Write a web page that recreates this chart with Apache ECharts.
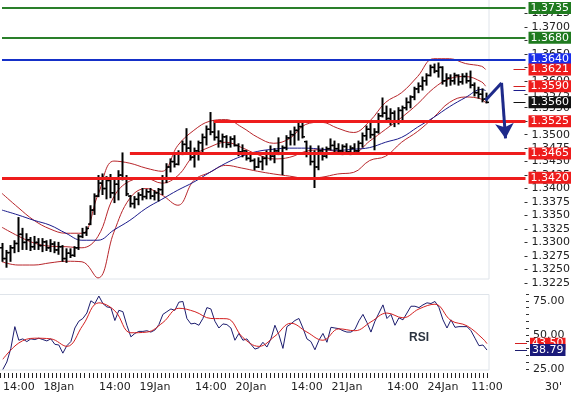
<!DOCTYPE html>
<html>
<head>
<meta charset="utf-8">
<script src="https://cdn.jsdelivr.net/npm/echarts@6/dist/echarts.min.js"></script>
<style>
  html, body { margin: 0; padding: 0; background: #fff; }
  #chart { width: 573px; height: 395px; }
</style>
</head>
<body>
<div id="chart"></div>
<script>
// 30' EUR chart: hourly bars 17Jan 10:00 .. 24Jan 11:00, plus 10 empty slots on the right
const slotCount = 132;
const categories = Array.from({ length: slotCount }, (_, i) => String(i));

// x axis labels
const tickIdx = [4, 14, 28, 38, 52, 62, 76, 86, 100, 110, 121];
const tickText = ['14:00', '18Jan', '14:00', '19Jan', '14:00', '20Jan', '14:00', '21Jan', '14:00', '24Jan', '11:00'];

// price bars
const opens = [
  1.3290, 1.3270, 1.3281, 1.3290, 1.3298, 1.3315, 1.3300, 1.3305, 1.3292, 1.3300,
  1.3294, 1.3301, 1.3290, 1.3297, 1.3286, 1.3292, 1.3270, 1.3280, 1.3276, 1.3290,
  1.3311, 1.3318, 1.3334, 1.3360, 1.3386, 1.3410, 1.3400, 1.3415, 1.3392, 1.3408,
  1.3425, 1.3420, 1.3386, 1.3372, 1.3380, 1.3388, 1.3385, 1.3394, 1.3386, 1.3392,
  1.3398, 1.3420, 1.3440, 1.3450, 1.3445, 1.3466, 1.3482, 1.3475, 1.3458, 1.3470,
  1.3485, 1.3495, 1.3510, 1.3505, 1.3495, 1.3488, 1.3496, 1.3482, 1.3492, 1.3480,
  1.3468, 1.3470, 1.3456, 1.3452, 1.3440, 1.3450, 1.3456, 1.3466, 1.3460, 1.3470,
  1.3466, 1.3476, 1.3494, 1.3500, 1.3508, 1.3515, 1.3487, 1.3465, 1.3450, 1.3440,
  1.3470, 1.3460, 1.3474, 1.3480, 1.3474, 1.3470, 1.3478, 1.3468, 1.3475, 1.3470,
  1.3484, 1.3498, 1.3510, 1.3500, 1.3505, 1.3535, 1.3540, 1.3530, 1.3540, 1.3525,
  1.3545, 1.3550, 1.3560, 1.3570, 1.3585, 1.3590, 1.3600, 1.3610, 1.3625, 1.3618,
  1.3625, 1.3600, 1.3605, 1.3600, 1.3610, 1.3598, 1.3608, 1.3600, 1.3592, 1.3578,
  1.3575, 1.3566
];
const closes = [
  1.3270, 1.3281, 1.3290, 1.3298, 1.3315, 1.3300, 1.3305, 1.3292, 1.3300, 1.3294,
  1.3301, 1.3290, 1.3297, 1.3286, 1.3292, 1.3270, 1.3280, 1.3276, 1.3290, 1.3311,
  1.3318, 1.3326, 1.3360, 1.3386, 1.3410, 1.3400, 1.3415, 1.3392, 1.3408, 1.3425,
  1.3420, 1.3390, 1.3372, 1.3380, 1.3388, 1.3385, 1.3394, 1.3386, 1.3392, 1.3398,
  1.3420, 1.3440, 1.3450, 1.3445, 1.3466, 1.3482, 1.3475, 1.3458, 1.3470, 1.3485,
  1.3495, 1.3510, 1.3505, 1.3495, 1.3488, 1.3496, 1.3482, 1.3492, 1.3480, 1.3468,
  1.3470, 1.3456, 1.3452, 1.3440, 1.3450, 1.3456, 1.3466, 1.3460, 1.3470, 1.3466,
  1.3476, 1.3494, 1.3500, 1.3508, 1.3515, 1.3496, 1.3465, 1.3450, 1.3440, 1.3470,
  1.3460, 1.3474, 1.3480, 1.3474, 1.3470, 1.3478, 1.3468, 1.3475, 1.3470, 1.3484,
  1.3498, 1.3510, 1.3500, 1.3505, 1.3535, 1.3540, 1.3530, 1.3540, 1.3525, 1.3545,
  1.3550, 1.3560, 1.3570, 1.3585, 1.3590, 1.3600, 1.3610, 1.3625, 1.3618, 1.3625,
  1.3600, 1.3605, 1.3600, 1.3610, 1.3598, 1.3608, 1.3600, 1.3592, 1.3578, 1.3575,
  1.3566, 1.3560
];
const highs = [
  1.3299, 1.3286, 1.3295, 1.3304, 1.3347, 1.3327, 1.3317, 1.3310, 1.3312, 1.3308,
  1.3308, 1.3304, 1.3306, 1.3302, 1.3301, 1.3295, 1.3289, 1.3289, 1.3293, 1.3315,
  1.3327, 1.3330, 1.3369, 1.3391, 1.3425, 1.3428, 1.3423, 1.3427, 1.3419, 1.3434,
  1.3467, 1.3425, 1.3388, 1.3386, 1.3393, 1.3401, 1.3399, 1.3401, 1.3397, 1.3401,
  1.3425, 1.3447, 1.3456, 1.3465, 1.3471, 1.3489, 1.3512, 1.3489, 1.3476, 1.3489,
  1.3502, 1.3517, 1.3542, 1.3527, 1.3508, 1.3502, 1.3499, 1.3497, 1.3499, 1.3484,
  1.3482, 1.3471, 1.3467, 1.3456, 1.3458, 1.3460, 1.3471, 1.3480, 1.3475, 1.3495,
  1.3480, 1.3499, 1.3508, 1.3515, 1.3523, 1.3527, 1.3489, 1.3480, 1.3471, 1.3480,
  1.3476, 1.3478, 1.3493, 1.3489, 1.3484, 1.3482, 1.3484, 1.3480, 1.3484, 1.3489,
  1.3504, 1.3517, 1.3523, 1.3512, 1.3540, 1.3569, 1.3554, 1.3549, 1.3545, 1.3551,
  1.3554, 1.3569, 1.3573, 1.3589, 1.3597, 1.3608, 1.3614, 1.3630, 1.3632, 1.3634,
  1.3627, 1.3614, 1.3612, 1.3615, 1.3612, 1.3614, 1.3615, 1.3619, 1.3597, 1.3589,
  1.3586, 1.3578
];
const lows = [
  1.3264, 1.3253, 1.3264, 1.3280, 1.3282, 1.3286, 1.3286, 1.3284, 1.3286, 1.3286,
  1.3282, 1.3284, 1.3282, 1.3280, 1.3277, 1.3264, 1.3262, 1.3271, 1.3273, 1.3286,
  1.3308, 1.3312, 1.3332, 1.3351, 1.3384, 1.3388, 1.3380, 1.3382, 1.3373, 1.3378,
  1.3415, 1.3386, 1.3365, 1.3363, 1.3369, 1.3378, 1.3380, 1.3380, 1.3378, 1.3376,
  1.3388, 1.3410, 1.3430, 1.3439, 1.3443, 1.3462, 1.3467, 1.3452, 1.3439, 1.3452,
  1.3465, 1.3480, 1.3499, 1.3489, 1.3476, 1.3476, 1.3475, 1.3476, 1.3478, 1.3460,
  1.3458, 1.3452, 1.3449, 1.3434, 1.3438, 1.3434, 1.3443, 1.3452, 1.3447, 1.3462,
  1.3425, 1.3471, 1.3480, 1.3480, 1.3489, 1.3493, 1.3458, 1.3443, 1.3401, 1.3434,
  1.3452, 1.3456, 1.3471, 1.3467, 1.3464, 1.3462, 1.3464, 1.3462, 1.3465, 1.3467,
  1.3476, 1.3489, 1.3493, 1.3471, 1.3502, 1.3532, 1.3523, 1.3517, 1.3514, 1.3519,
  1.3527, 1.3545, 1.3549, 1.3564, 1.3577, 1.3582, 1.3591, 1.3608, 1.3614, 1.3606,
  1.3593, 1.3589, 1.3591, 1.3593, 1.3591, 1.3593, 1.3595, 1.3586, 1.3571, 1.3567,
  1.3560, 1.3558
];

// indicator lines, read every 4 bars
const bandIdx = [0, 4, 8, 12, 16, 20, 24, 28, 32, 36, 40, 44, 48, 52, 56, 60,
  64, 68, 72, 76, 80, 84, 88, 92, 96, 100, 104, 108, 112, 116, 120, 121];
const upperBand = [1.3391, 1.3365, 1.3341, 1.3325, 1.3317, 1.3317, 1.3388, 1.3451,
  1.3447, 1.3438, 1.3432, 1.3480, 1.3508, 1.3525, 1.3528, 1.3514, 1.3495, 1.3484,
  1.3493, 1.3519, 1.3523, 1.3512, 1.3504, 1.3525, 1.3560, 1.3578, 1.3608, 1.3641,
  1.3641, 1.3632, 1.3627, 1.3621];
const midBand = [1.3328, 1.3312, 1.3299, 1.3293, 1.3292, 1.3290, 1.3311, 1.3385,
  1.3414, 1.3419, 1.3410, 1.3424, 1.3461, 1.3477, 1.3486, 1.3476, 1.3463, 1.3455,
  1.3458, 1.3469, 1.3472, 1.3469, 1.3467, 1.3488, 1.3510, 1.3532, 1.3557, 1.3586,
  1.3604, 1.3608, 1.3598, 1.3590];
const lowerBand = [1.3264, 1.3258, 1.3258, 1.3262, 1.3265, 1.3264, 1.3234, 1.3319,
  1.3382, 1.3400, 1.3388, 1.3369, 1.3415, 1.3430, 1.3443, 1.3438, 1.3432, 1.3427,
  1.3423, 1.3419, 1.3421, 1.3427, 1.3430, 1.3452, 1.3460, 1.3486, 1.3506, 1.3532,
  1.3560, 1.3570, 1.3566, 1.3559];
const maLine = [1.3360, 1.3351, 1.3341, 1.3332, 1.3317, 1.3304, 1.3304, 1.3323,
  1.3341, 1.3363, 1.3380, 1.3397, 1.3412, 1.3430, 1.3447, 1.3460, 1.3469, 1.3473,
  1.3475, 1.3475, 1.3473, 1.3471, 1.3473, 1.3476, 1.3486, 1.3495, 1.3514, 1.3532,
  1.3552, 1.3569, 1.3584, 1.3582];

// RSI (every bar) and its signal (every 4 bars)
const rsi = [
  24.5, 30, 40, 56, 46, 47, 45, 47, 46.5, 47.5,
  46.5, 45.5, 47, 43, 42.5, 36.5, 42, 45, 55, 60,
  62, 66, 75, 73, 78.5, 73, 70.5, 70, 60.5, 68,
  67, 57, 48.5, 51, 52.5, 52.5, 53, 52, 53.5, 57.5,
  65, 67, 69, 68, 74, 74.5, 62, 58, 58.5, 57,
  62, 70, 69, 60, 55, 58, 57.5, 55, 46, 51,
  46, 47, 43, 39.5, 40.5, 44.5, 41, 47, 57, 50,
  40, 56, 58, 60.5, 62, 55, 47, 45, 39, 46,
  51, 44.5, 55.5, 55, 54.5, 53, 52, 52, 54, 60.3,
  65, 59, 52, 60, 66, 72, 62, 65, 57, 62.5,
  61, 66, 71, 71, 70, 72, 73.5, 73, 74.5, 70,
  61, 55, 61, 55.5, 56, 56, 56, 53, 47.5, 42,
  42.5, 38.79
];
const rsiSignal = [32, 44, 47.5, 47, 41.5, 57, 73.5, 67.6, 51.5, 52, 59, 69.5, 67, 62,
  61.8, 48, 41.5, 49, 58.5, 52, 46, 54.4, 53, 59.5, 66, 62.5, 69, 72.5, 60.5, 56.6,
  47, 43.5];

// horizontal levels
const levels = [1.3735, 1.3680, 1.3640, 1.3525, 1.3465, 1.3420];
const levelStart = [0, 0, 0, 53, 32, 0];
const levelColor = ['#2a7f2a', '#2a7f2a', '#1530c8', '#ee1c1c', '#ee1c1c', '#ee1c1c'];
const levelBox = ['#1f7a1f', '#1f7a1f', '#1a2eea', '#ee1c1c', '#ee1c1c', '#ee1c1c'];

// forecast arrow (slot, price)
const arrowPts = [[121, 1.3564], [125, 1.3596], [126, 1.3493]];

const lastIdx = closes.length - 1;
const pair = (vals) => bandIdx.map((k, j) => [k, vals[j]]);

// shared horizontal layout of both panels
const gridLeft = -2;
const gridWidth = 531;

const chart = echarts.init(document.getElementById('chart'));

const boxLabel = (text, bg) => ({
    show: true,
    position: 'end',
    distance: 3,
    formatter: text,
    color: '#fff',
    backgroundColor: bg,
    fontFamily: 'DejaVu Sans',
    fontSize: 11,
    lineHeight: 11,
    padding: [1, 2, 0, 2]
});

const levelLines = levels.map((v, k) => [
    {
        coord: [levelStart[k], v],
        lineStyle: { color: levelColor[k], width: k < 3 ? 2 : 3, type: 'solid' },
        label: boxLabel(v.toFixed(4), levelBox[k])
    },
    { coord: [slotCount - 1, v] }
]);

const stub = (v, color, text, bg) => [
    {
        coord: [128, v],
        lineStyle: { color: color, width: 1, type: 'solid' },
        label: text ? boxLabel(text, bg) : { show: false }
    },
    { coord: [slotCount - 1, v] }
];

// hourly time ticks under the RSI panel, one per bar slot
const timeTicks = closes.map((c, i) => {
    const x = Math.round(gridLeft + (i + 0.5) * gridWidth / slotCount) + 0.5;
    return {
        type: 'line', silent: true,
        shape: { x1: x, y1: 373, x2: x, y2: 378 },
        style: { stroke: '#222', lineWidth: 1 }
    };
});

const option = {
    backgroundColor: '#fff',
    animation: false,
    grid: [
        { left: gridLeft, top: -0.7, width: gridWidth, height: 283.5 },
        { left: gridLeft, top: 294, width: gridWidth, height: 74.8 }
    ],
    xAxis: [
        {
            type: 'category', gridIndex: 0, data: categories,
            axisLine: { show: false }, axisTick: { show: false },
            axisLabel: { show: false }, splitLine: { show: false }
        },
        {
            type: 'category', gridIndex: 1, data: categories, offset: 4,
            axisLine: { show: false }, axisTick: { show: false },
            axisLabel: {
                interval: (i) => tickIdx.indexOf(i) >= 0,
                formatter: (v, i) => tickText[tickIdx.indexOf(i)],
                color: '#222', fontFamily: 'DejaVu Sans', fontSize: 11, margin: 9
            },
            splitLine: { show: false }
        }
    ],
    yAxis: [
        {
            type: 'value', gridIndex: 0, position: 'right',
            min: 1.3225, max: 1.3750, interval: 0.0025,
            axisLine: { show: false },
            axisTick: { show: true, inside: true, length: 3, lineStyle: { color: '#333' } },
            axisLabel: {
                showMaxLabel: false, margin: 4,
                formatter: (v) => v.toFixed(4),
                color: '#222', fontFamily: 'DejaVu Sans', fontSize: 11
            },
            splitLine: { show: false }
        },
        {
            type: 'value', gridIndex: 1, position: 'right',
            min: 25, max: 80, interval: 5,
            axisLine: { show: false },
            axisTick: { show: true, inside: true, length: 3, lineStyle: { color: '#333' } },
            axisLabel: {
                margin: 4,
                formatter: (v) => (v % 25 === 0 ? v.toFixed(2) : ''),
                color: '#222', fontFamily: 'DejaVu Sans', fontSize: 11
            },
            splitLine: { show: false }
        }
    ],
    graphic: [
        { type: 'rect', id: 'frameMain', z: -1, shape: { x: -1, y: -1, width: 490, height: 280 },
          style: { fill: 'none', stroke: '#dfe4ea', lineWidth: 1 } },
        { type: 'rect', id: 'frameRsi', z: -1, shape: { x: -1, y: 294.5, width: 490, height: 75.5 },
          style: { fill: 'none', stroke: '#dfe4ea', lineWidth: 1 } },
        { type: 'text', id: 'rsiName', left: 409, top: 332, z: 5,
          style: { text: 'RSI', fill: '#2c3440', font: 'bold 12px "Liberation Sans", Arial, sans-serif' } },
        { type: 'text', id: 'period', left: 545, top: 382,
          style: { text: "30'", fill: '#222', font: '11px "DejaVu Sans", sans-serif' } },
        { type: 'group', id: 'timeTicks', z: 10, children: timeTicks }
    ],
    series: [
        {
            name: 'levels', type: 'line', xAxisIndex: 0, yAxisIndex: 0, data: [], z: 3,
            markLine: { silent: true, symbol: ['none', 'none'], data: levelLines }
        },
        {
            name: 'upper', type: 'line', xAxisIndex: 0, yAxisIndex: 0, data: pair(upperBand),
            smooth: 0.4, symbol: 'none', lineStyle: { color: '#b8262b', width: 1 }
        },
        {
            name: 'middle', type: 'line', xAxisIndex: 0, yAxisIndex: 0, data: pair(midBand),
            smooth: 0.4, symbol: 'none', lineStyle: { color: '#b8262b', width: 1 }
        },
        {
            name: 'lower', type: 'line', xAxisIndex: 0, yAxisIndex: 0, data: pair(lowerBand),
            smooth: 0.4, symbol: 'none', lineStyle: { color: '#b8262b', width: 1 }
        },
        {
            name: 'ma', type: 'line', xAxisIndex: 0, yAxisIndex: 0, data: pair(maLine),
            smooth: 0.4, symbol: 'none', lineStyle: { color: '#1c1c8c', width: 1 }
        },
        {
            name: 'price', type: 'custom', xAxisIndex: 0, yAxisIndex: 0, z: 4,
            data: closes.map((c, i) => [i, opens[i], c, lows[i], highs[i]]),
            encode: { x: 0, y: [1, 2, 3, 4] },
            renderItem: function (params, api) {
                const x = Math.round(api.coord([api.value(0), 0])[0]) + 0.5;
                const o = api.coord([api.value(0), api.value(1)])[1];
                const c = api.coord([api.value(0), api.value(2)])[1];
                const lo = api.coord([api.value(0), api.value(3)])[1];
                const hi = api.coord([api.value(0), api.value(4)])[1];
                const st = { stroke: '#000', lineWidth: 1.5 };
                return {
                    type: 'group',
                    children: [
                        { type: 'line', shape: { x1: x, y1: hi, x2: x, y2: lo }, style: { stroke: '#000', lineWidth: 2 } },
                        { type: 'line', shape: { x1: x - 2.5, y1: o, x2: x, y2: o }, style: st },
                        { type: 'line', shape: { x1: x, y1: c, x2: x + 2.5, y2: c }, style: st }
                    ]
                };
            }
        },
        {
            name: 'stubs', type: 'line', xAxisIndex: 0, yAxisIndex: 0, data: [], z: 5,
            markLine: {
                silent: true, symbol: ['none', 'none'],
                data: [
                    stub(upperBand[upperBand.length - 1], '#d42020', '1.3621', '#ee1c1c'),
                    stub(midBand[midBand.length - 1], '#d42020', '1.3590', '#ee1c1c'),
                    stub(maLine[maLine.length - 1], '#1c1c8c', null, null),
                    stub(closes[lastIdx], '#111', closes[lastIdx].toFixed(4), '#111')
                ]
            }
        },
        {
            name: 'arrow', type: 'line', xAxisIndex: 0, yAxisIndex: 0, data: [], z: 6,
            markLine: {
                silent: true, symbol: ['none', 'none'],
                lineStyle: { color: '#1e2a8a', width: 3, type: 'solid' },
                label: { show: false },
                data: [
                    [{ coord: arrowPts[0] }, { coord: arrowPts[1] }],
                    [{ coord: arrowPts[1] }, { coord: arrowPts[2], symbol: 'arrow', symbolSize: [14, 15] }]
                ]
            }
        },
        {
            name: 'RSI', type: 'line', xAxisIndex: 1, yAxisIndex: 1, clip: false,
            data: rsi.map((v, i) => [i, v]),
            symbol: 'none', lineStyle: { color: '#1c1c6e', width: 1 }
        },
        {
            name: 'signal', type: 'line', xAxisIndex: 1, yAxisIndex: 1, clip: false,
            data: pair(rsiSignal), smooth: 0.4,
            symbol: 'none', lineStyle: { color: '#d42020', width: 1 }
        },
        {
            name: 'rsiBoxes', type: 'line', xAxisIndex: 1, yAxisIndex: 1, data: [], z: 5,
            markLine: {
                silent: true, symbol: ['none', 'none'],
                data: [
                    stub(rsiSignal[rsiSignal.length - 1], '#d42020', rsiSignal[rsiSignal.length - 1].toFixed(2), '#ee1c1c'),
                    stub(rsi[lastIdx], '#1c1c6e', rsi[lastIdx].toFixed(2), '#1a1a7a')
                ]
            }
        }
    ]
};

chart.setOption(option);
</script>
</body>
</html>
